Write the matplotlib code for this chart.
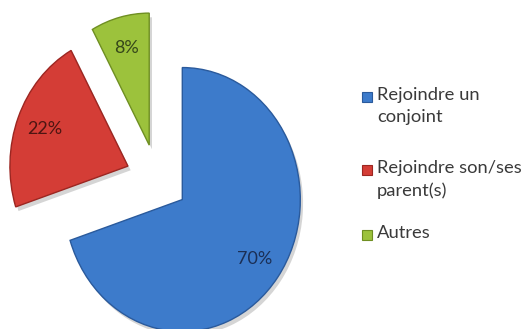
import matplotlib.pyplot as plt
import matplotlib.patheffects as pe
from matplotlib.patches import Rectangle

labels = ["Rejoindre un\nconjoint", "Rejoindre son/ses\nparent(s)", "Autres"]
values = [70, 22, 8]
colors = ["#3d7bcb", "#d43d36", "#9cc23c"]
edge_colors = ["#2a5a9c", "#9c2621", "#6f8f22"]
text_colors = ["#1b2f55", "#4d1512", "#36471a"]

plt.rcParams['font.family'] = ['Lato', 'DejaVu Sans']

W, H = 527, 329
fig = plt.figure(figsize=(W / 100, H / 100), dpi=100)
ax = fig.add_axes([0, 0, 1, 1])

wedges, texts, autotexts = ax.pie(
    values, colors=colors, startangle=90, counterclock=False,
    explode=[0.265] * 3, autopct='%d%%', pctdistance=0.76,
    wedgeprops=dict(linewidth=1.0),
    textprops=dict(fontsize=13))

# pie centre sits at (157, 179) px, radius 118 px across and 132 px down
cx, cy, rx, ry = 157, 179, 118, 132
ax.set_xlim(-cx / rx, (W - cx) / rx)
ax.set_ylim((cy - H) / ry, cy / ry)
ax.set_aspect('auto')
ax.axis('off')

for w, ec in zip(wedges, edge_colors):
    w.set_edgecolor(ec)
    w.set_path_effects([pe.SimplePatchShadow(offset=(2, -3), shadow_rgbFace='#888888', alpha=0.35),
                        pe.Normal()])
for t, c in zip(autotexts, text_colors):
    t.set_color(c)

# legend drawn by hand so the marker sits on the first text line
marker_tops = [92, 165, 230]
for lab, col, ec, top in zip(labels, colors, edge_colors, marker_tops):
    fig.patches.append(Rectangle((362 / W, 1 - (top + 10) / H), 10 / W, 10 / H,
                                 transform=fig.transFigure, facecolor=col,
                                 edgecolor=ec, linewidth=0.8))
    fig.text(377 / W, 1 - (top - 5) / H, lab, fontsize=13.2, color="#3a3a3a",
             va='top', ha='left', linespacing=1.45)

fig.savefig("out.png", dpi=100)
